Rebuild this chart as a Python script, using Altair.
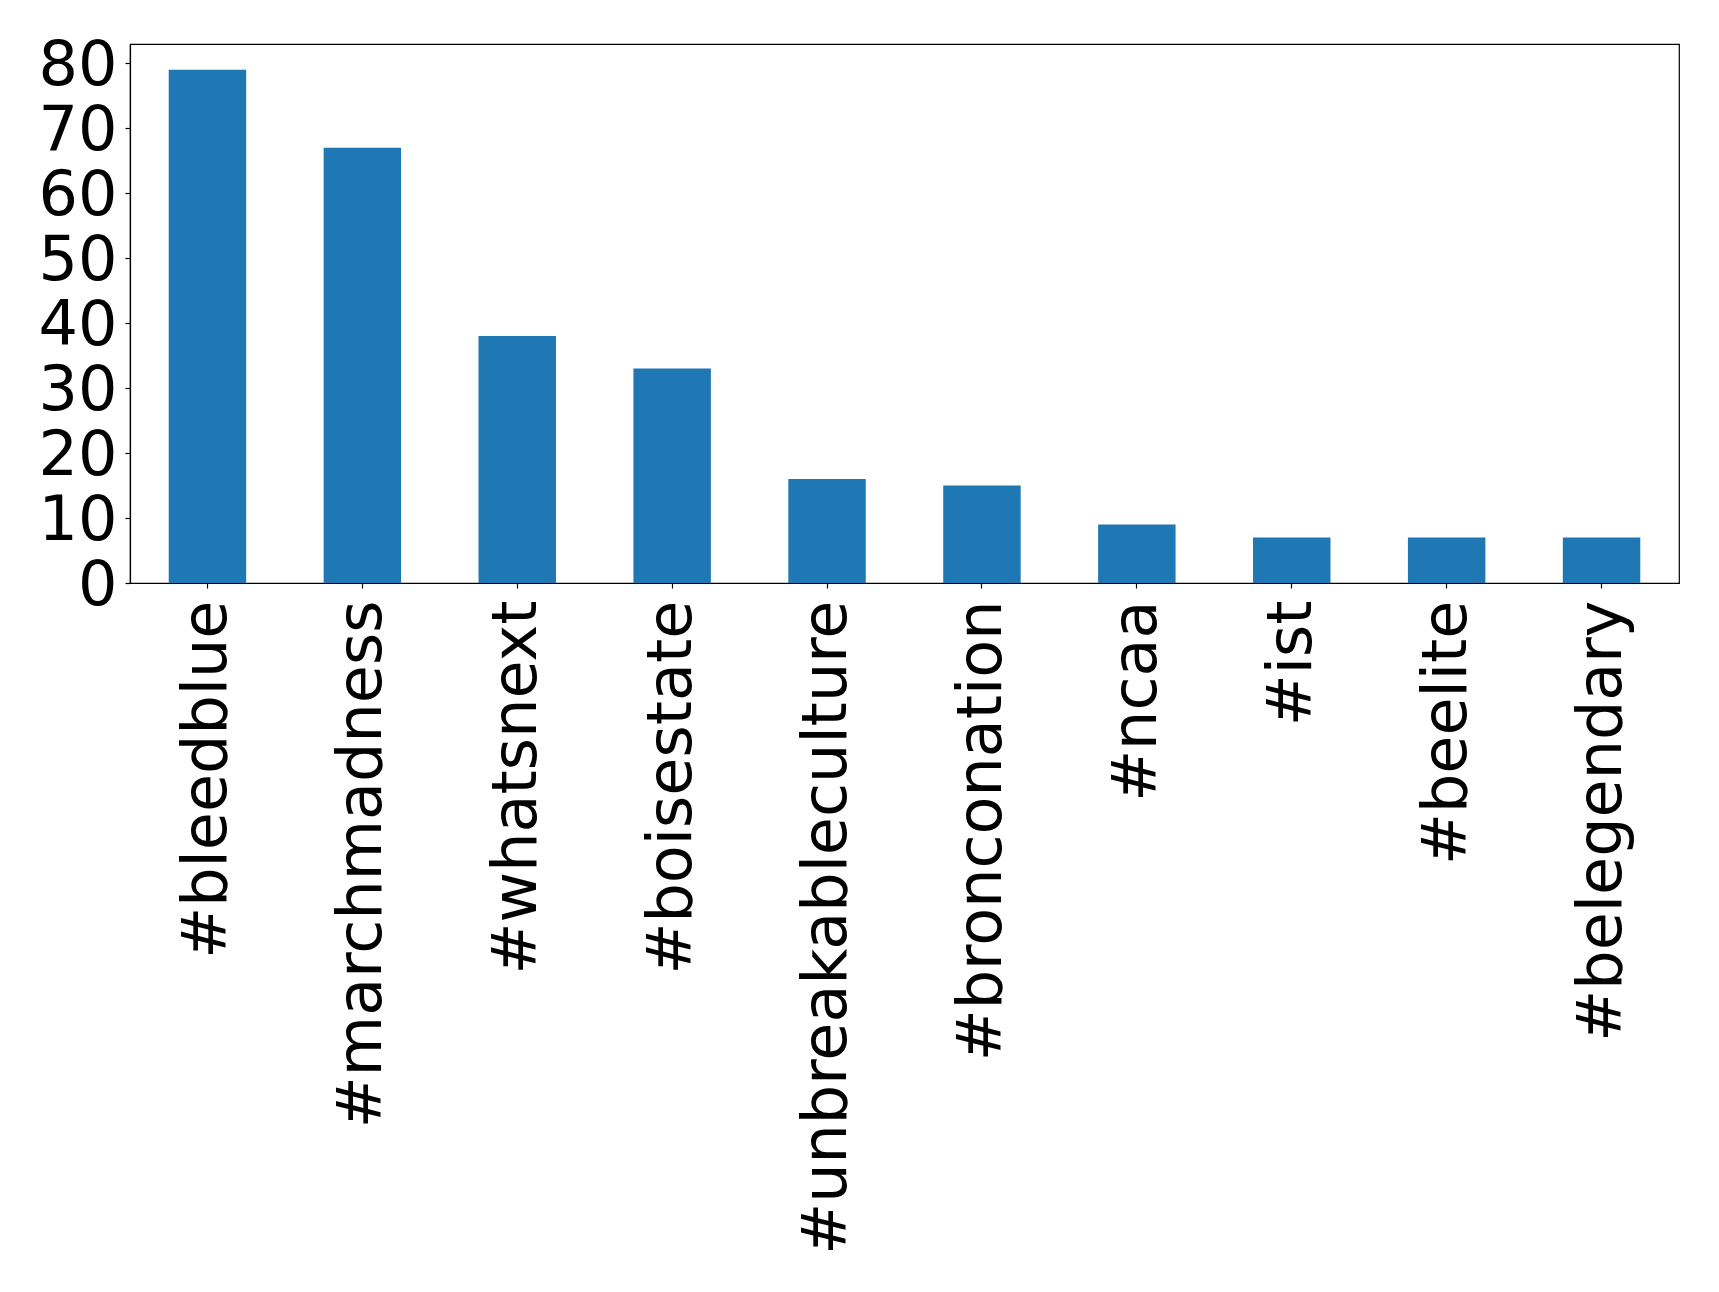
import altair as alt
import pandas as pd

tags = ["#bleedblue", "#marchmadness", "#whatsnext", "#boisestate", "#unbreakableculture",
        "#bronconation", "#ncaa", "#ist", "#beelite", "#belegendary"]
counts = [79, 67, 38, 33, 16, 15, 9, 7, 7, 7]

df = pd.DataFrame({"tag": tags, "count": counts})

chart = alt.Chart(df).mark_bar(color="#1f77b4").encode(
    x=alt.X("tag:N", sort=tags, title=None,
            scale=alt.Scale(paddingInner=0.5, paddingOuter=0.25),
            axis=alt.Axis(labelAngle=-90, labelFontSize=62, labelFont="DejaVu Sans",
                          labelColor="black", tickColor="black", domainColor="black",
                          tickSize=5, labelPadding=12, labelLimit=2000, domain=True, grid=False)),
    y=alt.Y("count:Q", title=None,
            scale=alt.Scale(domain=[0, 82.95], nice=False, zero=True),
            axis=alt.Axis(values=[0, 10, 20, 30, 40, 50, 60, 70, 80], labelFontSize=62,
                          labelFont="DejaVu Sans", labelColor="black", tickColor="black",
                          domainColor="black", tickSize=5, labelPadding=8, labelOffset=2,
                          grid=False)),
).properties(
    width=1549, height=539,
    autosize=alt.AutoSizeParams(type="none"),
    padding={"left": 122, "top": 36, "right": 30, "bottom": 700},
).configure_view(stroke="black", strokeWidth=1.2).configure_axis(domainWidth=1.2, tickWidth=1.2)

chart.save("out.html", embed_options={"renderer": "svg", "actions": False})
